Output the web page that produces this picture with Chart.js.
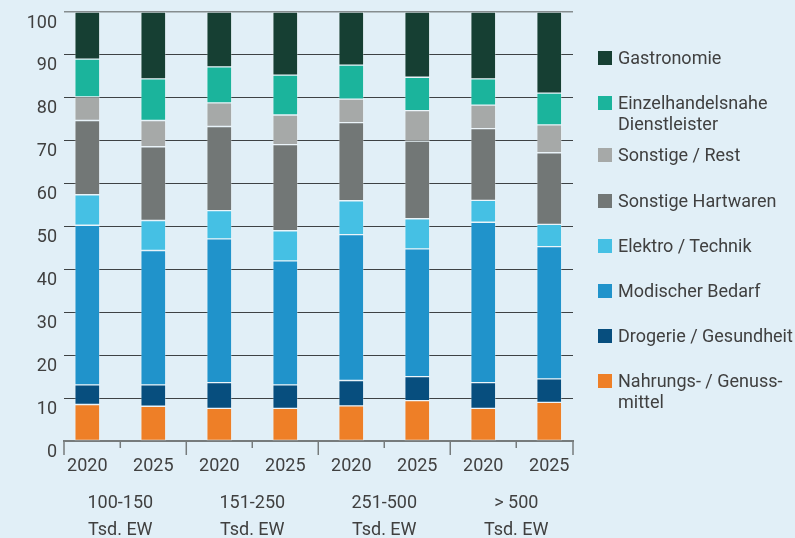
<!DOCTYPE html>
<html lang="de">
<head>
<meta charset="utf-8">
<script src="https://cdn.jsdelivr.net/npm/chart.js@4.4.1/dist/chart.umd.min.js"></script>
<style>
  html, body { margin: 0; padding: 0; background: #e1eff7; }
  #wrap { position: relative; width: 795px; height: 538px; overflow: hidden; }
  #chart { position: absolute; left: 0; top: 0; }
  #legend {
    position: absolute; left: 598px; top: 0;
    font-family: Roboto, 'Liberation Sans', sans-serif;
    font-size: 18px; line-height: 21px; color: #404040;
  }
  .item { position: absolute; left: 0; display: flex; align-items: flex-start; white-space: nowrap; }
  .sw { flex: none; width: 14px; height: 14px; margin-top: 4px; margin-right: 6px; }
</style>
</head>
<body>
<div id="wrap">
  <canvas id="chart" width="795" height="538"></canvas>
  <div id="legend"></div>
</div>
<script>
// ── DATA ─────────────────────────────────────────────────────
const CATS   = ['2020', '2025', '2020', '2025', '2020', '2025', '2020', '2025'];
const GROUPS = [['100-150', 'Tsd. EW'], ['151-250', 'Tsd. EW'], ['251-500', 'Tsd. EW'], ['> 500', 'Tsd. EW']];
const Y_TICKS = [0, 10, 20, 30, 40, 50, 60, 70, 80, 90, 100];

// stacked bottom -> top
const NAHRUNG   = [8.5, 8.1, 7.6, 7.6, 8.2, 9.4, 7.6, 9.0];
const DROGERIE  = [4.6, 5.0, 6.0, 5.5, 5.9, 5.6, 6.0, 5.5];
const MODISCH   = [37.2, 31.3, 33.5, 28.9, 34.0, 29.8, 37.4, 30.8];
const ELEKTRO   = [7.1, 7.0, 6.6, 7.0, 7.9, 7.0, 5.1, 5.2];
const HARTWAREN = [17.3, 17.2, 19.6, 20.1, 18.2, 18.1, 16.7, 16.7];
const REST      = [5.5, 6.1, 5.5, 6.9, 5.5, 7.1, 5.5, 6.5];
const DIENST    = [8.8, 9.7, 8.4, 9.3, 7.9, 7.8, 6.1, 7.4];
const GASTRO    = [11.0, 15.6, 12.8, 14.7, 12.4, 15.2, 15.6, 18.9];

const SERIES = [
  { label: ['Nahrungs- / Genuss-', 'mittel'], data: NAHRUNG, color: '#ee7f27' },
  { label: ['Drogerie / Gesundheit'], data: DROGERIE, color: '#074e7e' },
  { label: ['Modischer Bedarf'], data: MODISCH, color: '#2093cb' },
  { label: ['Elektro / Technik'], data: ELEKTRO, color: '#45c0e4' },
  { label: ['Sonstige Hartwaren'], data: HARTWAREN, color: '#727776' },
  { label: ['Sonstige / Rest'], data: REST, color: '#a6a9a8' },
  { label: ['Einzelhandelsnahe', 'Dienstleister'], data: DIENST, color: '#1bb49c' },
  { label: ['Gastronomie'], data: GASTRO, color: '#163f33' },
];

// ── STYLE ────────────────────────────────────────────────────
const FONT = "Roboto, 'Liberation Sans', sans-serif";
const TEXT = '#404040';
const AXIS = '#767b7c';

// tick marks under the x axis: short between years, long between groups
const tickMarks = {
  id: 'tickMarks',
  afterDraw(chart) {
    const { ctx, scales: { x } } = chart;
    const pts = [[x.left, 14]];
    for (let i = 0; i < CATS.length - 1; i++) pts.push([x.getPixelForValue(i + 0.5), i % 2 ? 14 : 7]);
    pts.push([x.right, 14]);
    ctx.save();
    ctx.strokeStyle = AXIS;
    ctx.lineWidth = 1.5;
    pts.forEach(([px, len]) => {
      ctx.beginPath();
      ctx.moveTo(px, x.top);
      ctx.lineTo(px, x.top + len);
      ctx.stroke();
    });
    ctx.restore();
  },
};

const noPad = s => { s.paddingTop = 0; s.paddingBottom = 0; s.paddingLeft = 0; s.paddingRight = 0; };

new Chart(document.getElementById('chart'), {
  type: 'bar',
  data: {
    datasets: SERIES.map(s => ({
      label: s.label.join(' '),
      data: s.data.map((v, i) => ({ x: i, y: v })),
      backgroundColor: s.color,
      borderColor: 'rgba(255,255,255,0.25)',
      borderWidth: 1,
      borderSkipped: false,
      barThickness: 25,
    })),
  },
  options: {
    responsive: false,
    animation: false,
    layout: { padding: { left: 0, right: 222, top: 12, bottom: 0 } },
    plugins: { legend: { display: false }, tooltip: { enabled: false } },
    scales: {
      y: {
        stacked: true,
        min: 0, max: 100,
        afterBuildTicks: s => { s.ticks = Y_TICKS.map(v => ({ value: v })); },
        afterFit: s => { s.width = 64; noPad(s); },
        ticks: { color: TEXT, font: { family: FONT, size: 18 }, padding: 7, labelOffset: 11 },
        grid: {
          color: c => (c.tick && c.tick.value === 100 ? '#868d8f' : '#3d4244'),
          lineWidth: c => (c.tick && c.tick.value === 100 ? 1.5 : 1),
          drawTicks: false,
        },
        border: { display: false },
      },
      x: {
        type: 'linear',
        stacked: true,
        offset: false,
        min: -0.353, max: 7.36,
        weight: 0,
        afterBuildTicks: s => { s.ticks = CATS.map((c, i) => ({ value: i })); },
        afterFit: s => { s.height = 45; noPad(s); },
        ticks: {
          color: TEXT, font: { family: FONT, size: 18 }, padding: 15,
          autoSkip: false, maxRotation: 0,
          callback: v => CATS[Math.round(v)],
        },
        grid: { display: false, drawTicks: false, offset: false },
        border: { display: true, color: AXIS, width: 2 },
      },
      x2: {
        type: 'linear',
        position: 'bottom',
        offset: false,
        min: -0.353, max: 7.36,
        weight: 1,
        afterBuildTicks: s => { s.ticks = GROUPS.map((g, i) => ({ value: i * 2 + 0.5 })); },
        afterFit: s => { s.height = 52; noPad(s); },
        ticks: {
          color: TEXT, font: { family: FONT, size: 18, lineHeight: 1.5 }, padding: 4,
          autoSkip: false, maxRotation: 0,
          callback: v => GROUPS[Math.round((v - 0.5) / 2)],
        },
        grid: { display: false, drawTicks: false },
        border: { display: false },
      },
    },
  },
  plugins: [tickMarks],
});

// ── LEGEND (top = Gastronomie) ───────────────────────────────
const legend = document.getElementById('legend');
SERIES.slice().reverse().forEach((s, i) => {
  const el = document.createElement('div');
  el.className = 'item';
  el.style.top = (47 + i * 45.2 + (i > 1 ? 7 : 0)) + 'px';
  el.innerHTML = `<span class="sw" style="background:${s.color}"></span><span>${s.label.join('<br>')}</span>`;
  legend.appendChild(el);
});
</script>
</body>
</html>
